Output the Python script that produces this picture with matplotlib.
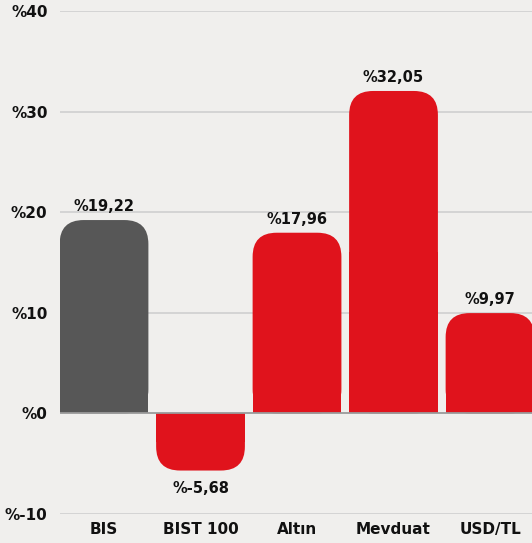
import numpy as np
import matplotlib.pyplot as plt
from matplotlib.patches import FancyBboxPatch, Rectangle

plt.rcParams['font.family'] = ['DejaVu Sans']
plt.rcParams['font.weight'] = 'bold'

categories = ['BIS', 'BIST 100', 'Altın', 'Mevduat', 'USD/TL']
values = [19.22, -5.68, 17.96, 32.05, 9.97]
labels = ['%19,22', '%-5,68', '%17,96', '%32,05', '%9,97']
colors = ['#575757', '#e0131c', '#e0131c', '#e0131c', '#e0131c']
yticks = [-10, 0, 10, 20, 30, 40]
yticklabels = ['%-10', '%0', '%10', '%20', '%30', '%40']

bg = '#f0efed'
W, H = 532, 543
fig = plt.figure(figsize=(W / 100, H / 100), dpi=100, facecolor=bg)
ax = fig.add_axes([60 / W, (H - 514) / H, 1 - 60 / W, (514 - 11) / H])
ax.set_facecolor(bg)

xmin, xmax = -0.456, 4.435
ymin, ymax = -10, 40
ax.set_xlim(xmin, xmax)
ax.set_ylim(ymin, ymax)

# pixel scale -> aspect for rounded corners
px_x = (xmax - xmin) / (W - 60)
px_y = (ymax - ymin) / (514 - 11)
aspect = px_y / px_x

for t in yticks:
    if t != 0:
        ax.axhline(t, color='#cfcfcf', lw=1.2, zorder=0)

width = 0.92
r = 24 * px_x
for i, (v, c, lab) in enumerate(zip(values, colors, labels)):
    x0 = i - width / 2
    y0, h = min(0, v), abs(v)
    box = FancyBboxPatch((x0, y0), width, h,
                         boxstyle=f"round,pad=0,rounding_size={r}",
                         mutation_aspect=aspect, fc=c, ec='none', zorder=2)
    ax.add_patch(box)
    # square off the end at zero
    ax.add_patch(Rectangle((x0, min(0, v / 2)), width, abs(v) / 2,
                           fc=c, ec='none', zorder=2))
    if v >= 0:
        ax.text(i, v + 0.6, lab, ha='center', va='bottom', fontsize=10.5,
                fontweight='bold', color='#111111')
    else:
        ax.text(i, v - 1.0, lab, ha='center', va='top', fontsize=10.5,
                fontweight='bold', color='#111111')

ax.axhline(0, color='#9a9a9a', lw=1.3, zorder=3)

ax.set_yticks(yticks)
ax.set_yticklabels(yticklabels, fontsize=11, fontweight='bold', color='#111111')
ax.set_xticks(range(len(categories)))
ax.set_xticklabels(categories, fontsize=11, fontweight='bold', color='#111111')
ax.tick_params(axis='both', length=0)
ax.tick_params(axis='y', pad=9)
ax.tick_params(axis='x', pad=6)
for s in ax.spines.values():
    s.set_visible(False)

fig.savefig('out.png', dpi=100, facecolor=bg)
